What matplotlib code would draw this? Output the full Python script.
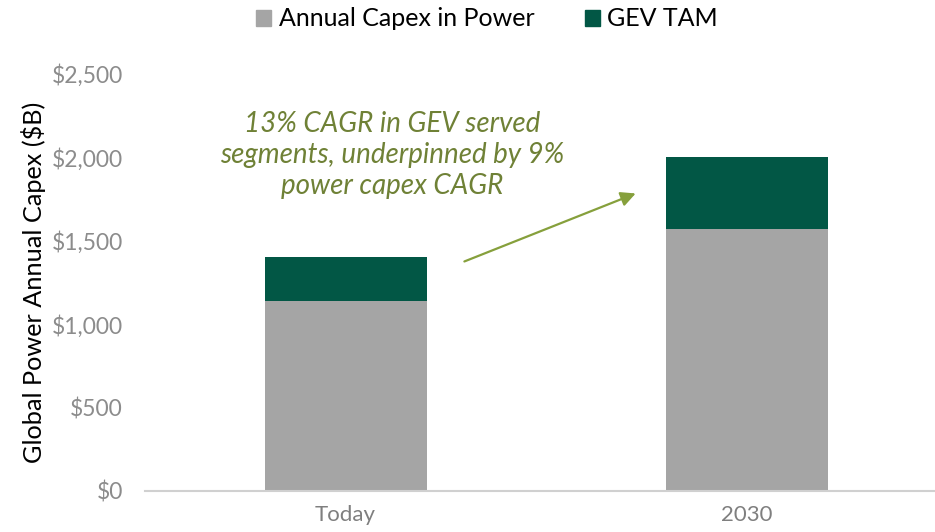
import matplotlib
matplotlib.use('Agg')
import matplotlib.pyplot as plt
from matplotlib.patches import Patch

# data
categories = ['Today', '2030']
capex_power = [1140, 1570]
gev_tam = [260, 430]
y_ticks = [0, 500, 1000, 1500, 2000, 2500]
y_tick_labels = ['$0', '$500', '$1,000', '$1,500', '$2,000', '$2,500']

gray = '#A5A5A5'
green = '#025745'
olive_text = '#6F8136'
olive_arrow = '#86A03C'

plt.rcParams['font.family'] = ['Lato', 'DejaVu Sans']

fig = plt.figure(figsize=(9.35, 5.32), dpi=100)
ax = fig.add_axes([145 / 935, 1 - 491 / 532, 1 - 145 / 935, (491 - 74) / 532])

x = list(range(len(categories)))
ax.bar(x, capex_power, width=0.404, color=gray, zorder=2)
ax.bar(x, gev_tam, width=0.404, bottom=capex_power, color=green, zorder=2)

ax.set_xlim(-0.5, 1.47)
ax.set_ylim(0, 2500)
ax.set_xticks(x)
ax.set_xticklabels(categories, fontsize=16, color='#7F7F7F')
ax.set_yticks(y_ticks)
ax.set_yticklabels(y_tick_labels, fontsize=16.5, color='#8C8C8C')
ax.tick_params(axis='both', length=0)
ax.tick_params(axis='y', pad=16)
ax.tick_params(axis='x', pad=10)
for s in ['top', 'right', 'left']:
    ax.spines[s].set_visible(False)
ax.spines['bottom'].set_color('#D0D0D0')
ax.spines['bottom'].set_linewidth(1.5)
ax.set_ylabel('Global Power Annual Capex ($B)', fontsize=18.2, color='black')
ax.yaxis.set_label_coords(-0.125, 0.5)

# annotation
ax.text(0.117, 2015, '13% CAGR in GEV served\nsegments, underpinned by 9%\npower capex CAGR',
        ha='center', va='center', fontsize=20, style='italic', color=olive_text,
        linespacing=1.22)
ax.annotate('', xy=(0.73, 1790), xytext=(0.29, 1370),
            arrowprops=dict(arrowstyle='-|>', color=olive_arrow, lw=1.6,
                            mutation_scale=22))

handles = [Patch(color=gray, label='Annual Capex in Power'),
           Patch(color=green, label='GEV TAM')]
fig.legend(handles=handles, loc='center', bbox_to_anchor=(487 / 935, 1 - 19 / 532),
           ncol=2, frameon=False, fontsize=18, handlelength=0.6, handleheight=0.6,
           handletextpad=0.3, columnspacing=2.0)

fig.savefig('out.png', dpi=100)
